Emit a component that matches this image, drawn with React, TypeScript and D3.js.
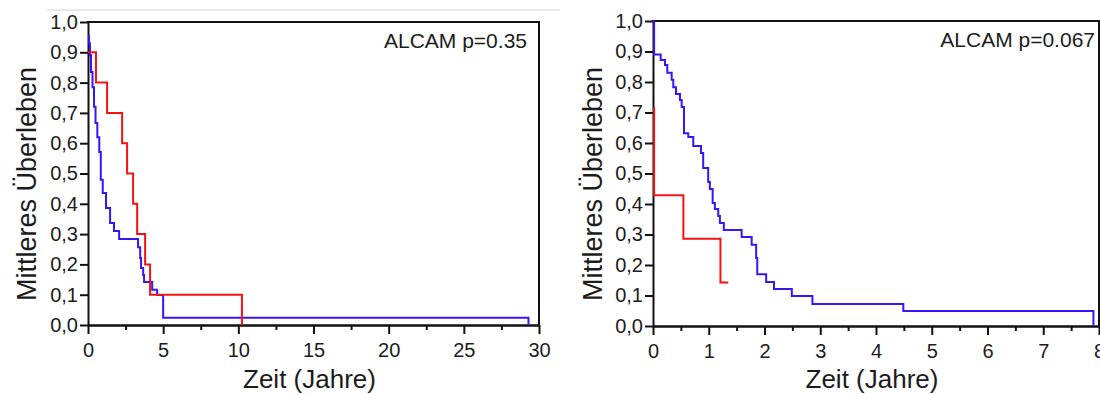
import React, { useEffect, useRef } from "react";
import * as d3 from "d3";

// y axis ticks shared by both panels
const yTicks = [0, 0.1, 0.2, 0.3, 0.4, 0.5, 0.6, 0.7, 0.8, 0.9, 1.0];

// left panel (0-30 years)
const leftXTicks = [0, 5, 10, 15, 20, 25, 30];
const leftXMinor = [2.5, 7.5, 12.5, 17.5, 22.5, 27.5];
const leftBlueTime = [0, 0.07, 0.13, 0.2, 0.3, 0.4, 0.5, 0.62, 0.75, 0.85, 0.98, 1.2, 1.47, 1.73, 2.07, 3.33, 3.47, 3.53, 3.67, 3.73, 4.27, 4.6, 5.0, 29.3];
const leftBlueSurv = [0.952, 0.93, 0.89, 0.835, 0.785, 0.72, 0.667, 0.62, 0.571, 0.479, 0.436, 0.386, 0.337, 0.31, 0.284, 0.257, 0.221, 0.188, 0.165, 0.142, 0.116, 0.099, 0.024, 0];
const leftRedTime = [0, 0.53, 1.27, 2.27, 2.6, 3.0, 3.27, 3.8, 4.13, 10.24];
const leftRedSurv = [0.9, 0.8, 0.7, 0.6, 0.5, 0.4, 0.3, 0.2, 0.1, 0];

// right panel (0-8 years)
const rightXTicks = [0, 1, 2, 3, 4, 5, 6, 7, 8];
const rightXMinor = [0.5, 1.5, 2.5, 3.5, 4.5, 5.5, 6.5, 7.5];
const rightBlueTime = [0, 0.02, 0.138, 0.215, 0.256, 0.335, 0.364, 0.412, 0.484, 0.514, 0.556, 0.633, 0.722, 0.86, 0.9, 0.99, 1.02, 1.07, 1.11, 1.17, 1.2, 1.27, 1.59, 1.77, 1.85, 1.87, 2.03, 2.17, 2.49, 2.86, 4.49, 7.9];
const rightBlueSurv = [1, 0.89, 0.872, 0.856, 0.83, 0.807, 0.783, 0.761, 0.741, 0.718, 0.632, 0.62, 0.59, 0.567, 0.518, 0.472, 0.449, 0.403, 0.384, 0.361, 0.338, 0.315, 0.292, 0.266, 0.223, 0.17, 0.144, 0.121, 0.098, 0.072, 0.049, 0];
const rightRedTime = [0, 0.02, 0.545, 1.21, 1.35];
const rightRedSurv = [0.714, 0.429, 0.286, 0.143, 0.143];

const FONT = "'Liberation Sans', Arial, sans-serif";
const BLUE = "#3a14f5";
const RED = "#f21414";
const TEXT = "#1c1c1c";

interface PanelOpts {
    left: number;
    right: number;
    top: number;
    bottom: number;
    xMax: number;
    xTicks: number[];
    xMinor: number[];
    blue: [number[], number[]];
    red: [number[], number[]];
    label: string;
    labelX: number;
    labelY: number;
    yTitleX: number;
}

function drawPanel(svg: d3.Selection<SVGSVGElement, unknown, null, undefined>, o: PanelOpts) {
    const x = d3.scaleLinear().domain([0, o.xMax]).range([o.left, o.right]);
    const y = d3.scaleLinear().domain([0, 1]).range([o.bottom, o.top]);

    const g = svg.append("g");

    // y axis
    const yAxis = g.append("g")
        .attr("transform", `translate(${o.left},0)`)
        .call(d3.axisLeft(y).tickValues(yTicks).tickSize(8).tickSizeOuter(0).tickPadding(2)
            .tickFormat(d => d3.format(".1f")(d as number).replace(".", ",")));

    // x axis, minor ticks first then major
    const xMinorAxis = g.append("g")
        .attr("transform", `translate(0,${o.bottom})`)
        .call(d3.axisBottom(x).tickValues(o.xMinor).tickSize(5).tickSizeOuter(0).tickFormat(() => ""));
    const xAxis = g.append("g")
        .attr("transform", `translate(0,${o.bottom})`)
        .call(d3.axisBottom(x).tickValues(o.xTicks).tickSize(9).tickSizeOuter(0).tickPadding(9)
            .tickFormat(d => String(d)));

    [yAxis, xAxis, xMinorAxis].forEach(a => {
        a.selectAll("path").attr("stroke", "#111").attr("stroke-width", 2);
        a.selectAll("line").attr("stroke", "#111").attr("stroke-width", 2);
        a.selectAll("text")
            .attr("fill", TEXT)
            .style("font-family", FONT)
            .style("font-size", "20px");
    });

    // top and right frame lines
    g.append("line")
        .attr("x1", o.left - 1).attr("x2", o.right + 1)
        .attr("y1", o.top).attr("y2", o.top)
        .attr("stroke", "#111").attr("stroke-width", 2);
    g.append("line")
        .attr("x1", o.right).attr("x2", o.right)
        .attr("y1", o.top).attr("y2", o.bottom)
        .attr("stroke", "#111").attr("stroke-width", 2);

    const line = d3.line<[number, number]>()
        .x(d => x(d[0]))
        .y(d => y(d[1]))
        .curve(d3.curveStepAfter);

    const series: [[number[], number[]], string][] = [[o.blue, BLUE], [o.red, RED]];
    series.forEach(([[t, s], color]) => {
        const pts = t.map((v, i) => [v, s[i]] as [number, number]);
        g.append("path")
            .attr("d", line(pts) || "")
            .attr("fill", "none")
            .attr("stroke", color)
            .attr("stroke-width", 2);
    });

    g.append("text")
        .attr("x", o.labelX).attr("y", o.labelY)
        .attr("text-anchor", "end")
        .attr("font-family", FONT).attr("font-size", 21)
        .attr("fill", TEXT)
        .text(o.label);

    g.append("text")
        .attr("x", (o.left + o.right) / 2 - 4).attr("y", 388)
        .attr("text-anchor", "middle")
        .attr("font-family", FONT).attr("font-size", 26)
        .attr("fill", TEXT)
        .text("Zeit (Jahre)");

    g.append("text")
        .attr("transform", `translate(${o.yTitleX},184) rotate(-90)`)
        .attr("text-anchor", "middle")
        .attr("font-family", FONT).attr("font-size", 27)
        .attr("fill", TEXT)
        .text("Mittleres Überleben");
}

export default function App() {
    const svgRef = useRef<SVGSVGElement | null>(null);

    useEffect(() => {
        if (!svgRef.current) return;
        const svg = d3.select(svgRef.current);
        svg.selectAll("*").remove();

        // faint separator line above the left panel
        svg.append("line")
            .attr("x1", 47).attr("x2", 560)
            .attr("y1", 10).attr("y2", 10)
            .attr("stroke", "#e2e2e2").attr("stroke-width", 1.5);

        drawPanel(svg, {
            left: 88, right: 539, top: 22, bottom: 325, xMax: 30,
            xTicks: leftXTicks, xMinor: leftXMinor,
            blue: [leftBlueTime, leftBlueSurv], red: [leftRedTime, leftRedSurv],
            label: "ALCAM p=0.35", labelX: 527, labelY: 48, yTitleX: 36,
        });
        drawPanel(svg, {
            left: 653, right: 1099, top: 21, bottom: 326, xMax: 8,
            xTicks: rightXTicks, xMinor: rightXMinor,
            blue: [rightBlueTime, rightBlueSurv], red: [rightRedTime, rightRedSurv],
            label: "ALCAM p=0.067", labelX: 1095, labelY: 47, yTitleX: 602,
        });
    }, []);

    return (
        <svg
            ref={svgRef}
            width={1100}
            height={394}
            style={{ position: "absolute", left: 0, top: 0, background: "#fff" }}
        />
    );
}
